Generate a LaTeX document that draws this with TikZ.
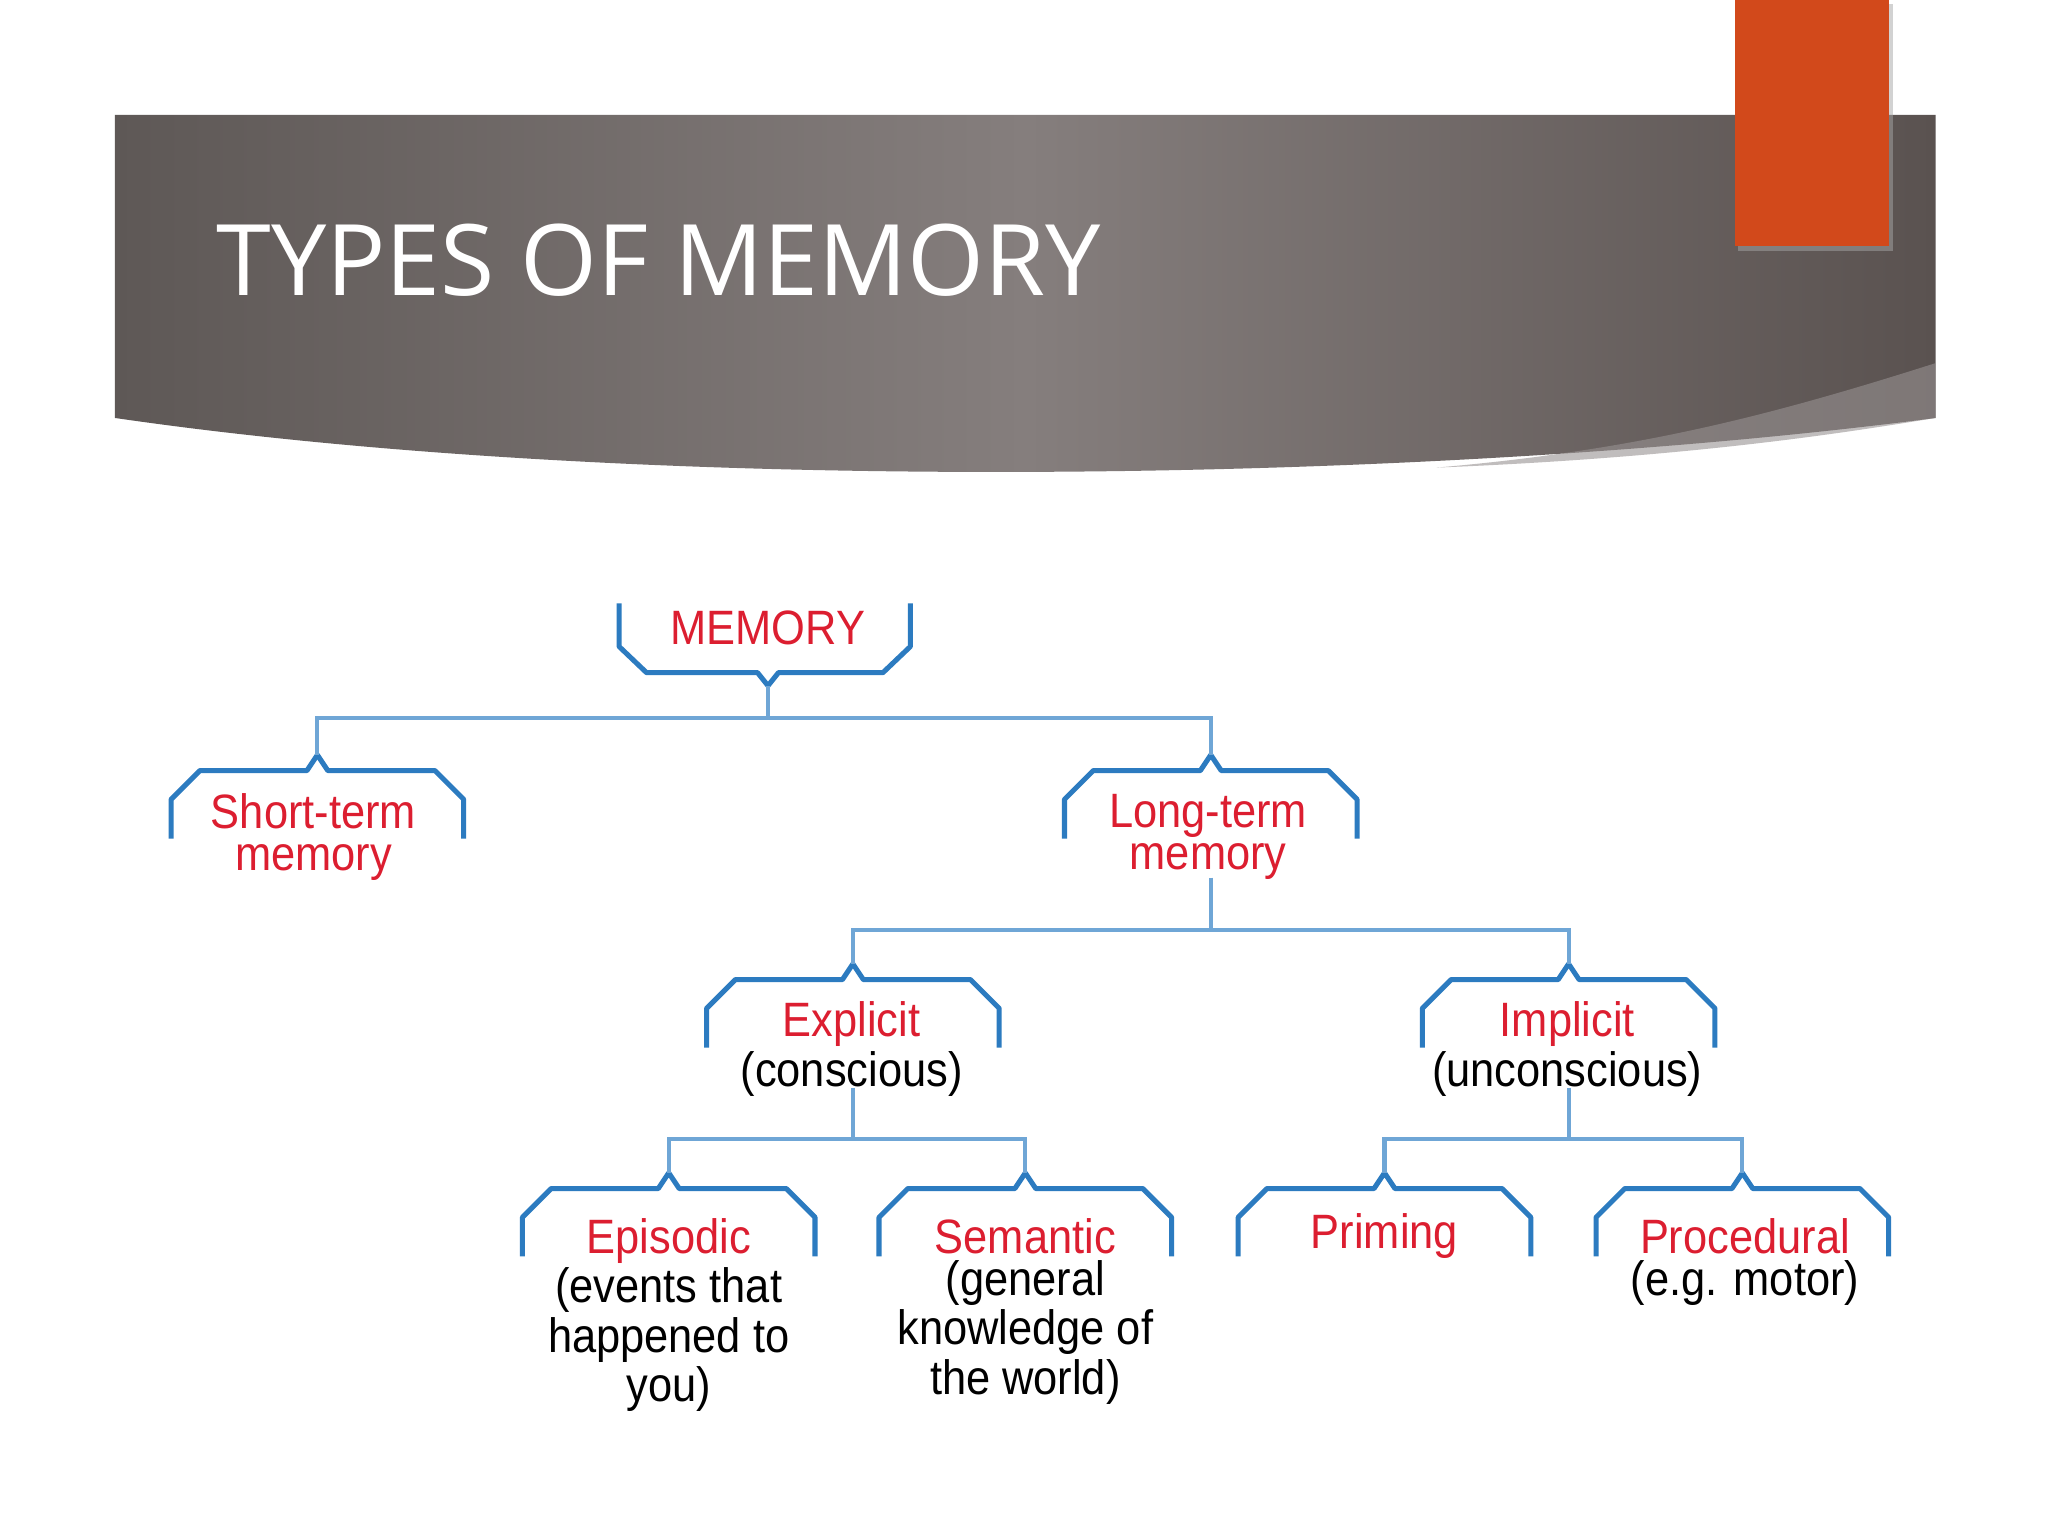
\documentclass[tikz,border=0pt]{standalone}
\usepackage{fontspec}
\setmainfont{Liberation Sans}
\newfontfamily\titlefont{Open Sans}
\definecolor{hdrA}{HTML}{5E5856}
\definecolor{hdrB}{HTML}{857E7D}
\definecolor{hdrC}{HTML}{5A5250}
\definecolor{orng}{HTML}{D2491B}
\definecolor{redt}{HTML}{DC1E30}
\definecolor{blu}{HTML}{2C7BC0}
\definecolor{blul}{HTML}{6FA6D6}
\tikzset{
  brk/.style={draw=blu,line width=1.1pt,line join=round},
  bus/.style={draw=blul,line width=0.9pt},
  lbl/.style={align=center,font=\fontsize{10.5}{9.2}\selectfont,inner sep=0pt,xscale=0.9},
}
\newcommand\bdown[3]{% center x, y, name
  \draw[brk] (#1-112,#2+52) -- (#1-112,#2+22) -- (#1-90,#2) -- (#1-8,#2) -- (#1,#2-12) -- (#1+8,#2) -- (#1+90,#2) -- (#1+112,#2+22) -- (#1+112,#2+52);
  \coordinate (#3) at (#1,#2-12);}
\begin{document}
\begin{tikzpicture}[x=0.01cm,y=-0.01cm]
\useasboundingbox (0,0) rectangle (1568,1176);
\fill[white] (0,0) rectangle (1568,1176);
\shade[left color=hdrA,right color=hdrC,middle color=hdrB] (88,88) -- (1482,88) -- (1482,320) .. controls (1100,370) and (500,380) .. (88,320) -- cycle;
\fill[hdrB!85!white,opacity=0.6] (1482,278) .. controls (1350,320) and (1250,345) .. (1100,358) .. controls (1300,350) and (1420,330) .. (1482,320) -- cycle;
\fill[black!35,opacity=0.5] (1331,3) rectangle (1449,192);
\fill[orng] (1328,0) rectangle (1446,188);
\node[anchor=base west,inner sep=0pt,text=white,font=\titlefont\fontsize{21.5}{24}\selectfont] (title) at (165,226) {TYPES OF MEMORY};
% MEMORY bracket (open up)
\draw[brk] (474,462) -- (474,495) -- (495,515) -- (580,515) -- (588,525) -- (596,515) -- (676,515) -- (697,495) -- (697,462);
\coordinate (mem) at (588,525);
\node[lbl,text=redt] (memt) at (588,481) {MEMORY};
\bdown{243}{590}{st}
\bdown{927}{590}{lt}
\bdown{653}{750}{ex}
\bdown{1201}{750}{im}
\bdown{512}{910}{ep}
\bdown{785}{910}{se}
\bdown{1060}{910}{pr}
\bdown{1334}{910}{pc}
\coordinate (b1) at (588,550);
\draw[bus] (mem) -- (b1);
\draw[bus] (st) |- (b1) -| (lt);
\coordinate (ltb) at (927,672);
\coordinate (b2) at (927,712);
\draw[bus] (ltb) -- (b2);
\draw[bus] (ex) |- (b2) -| (im);
\coordinate (exb) at (653,833);
\coordinate (b3) at (653,872);
\draw[bus] (exb) -- (b3);
\draw[bus] (ep) |- (b3) -| (se);
\coordinate (imb) at (1201,833);
\coordinate (b4) at (1201,872);
\draw[bus] (imb) -- (b4);
\draw[bus] (pr) |- (b4) -| (pc);
\node[lbl,text=redt] (stt) at (240,641) {Short-term\\memory};
\node[lbl,text=redt] (ltt) at (925,641) {Long-term\\memory};
\node[lbl] (ext) at (652,803) {\textcolor{redt}{Explicit}\\(conscious)};
\node[lbl] (imt) at (1200,803) {\textcolor{redt}{Implicit}\\(unconscious)};
\node[lbl,anchor=north] (ept) at (512,932) {\textcolor{redt}{Episodic}\\(events that\\happened to\\you)};
\node[lbl,anchor=north] (set) at (785,932) {\textcolor{redt}{Semantic}\\(general\\knowledge of\\the world)};
\node[lbl,text=redt] (prt) at (1060,946) {Priming};
\node[lbl,anchor=north] (pct) at (1336,932) {\textcolor{redt}{Procedural}\\(e.g. motor)};
\end{tikzpicture}
\end{document}
